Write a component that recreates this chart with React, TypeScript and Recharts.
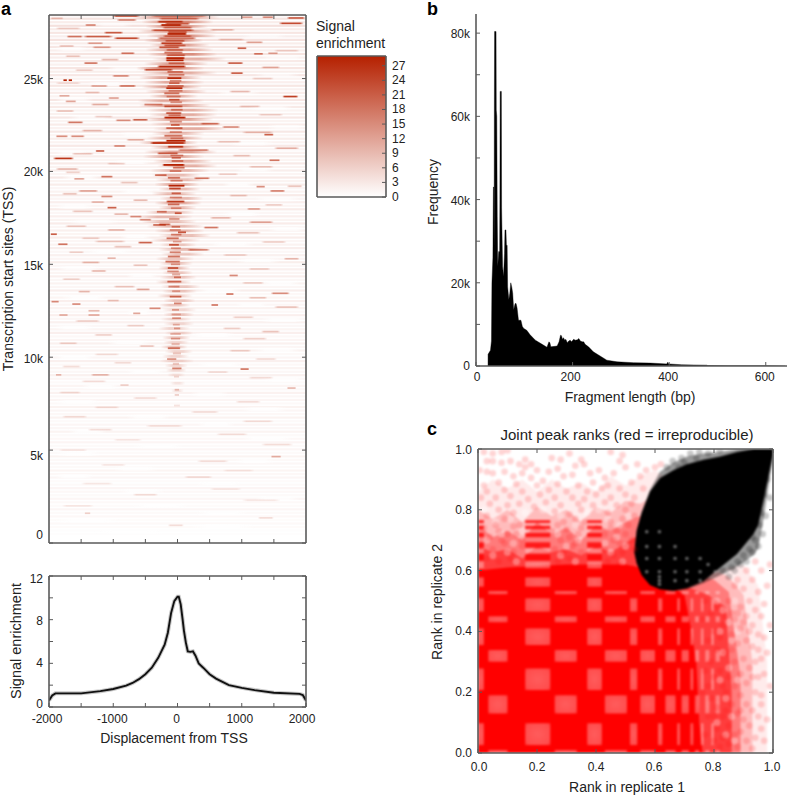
import React from 'react';
import { Area, Bar, BarChart, ComposedChart, Line, ReferenceArea, Scatter, XAxis, YAxis } from 'recharts';

const FONT = '"Liberation Sans", Arial, sans-serif';
const INK = '#222';
const FRAME = '#5a5a5a';
const HEAT = '#b52000';

// ---- panel a, heat map. Rows in TSS index (thousands), spans in bp, level as on the colour bar ----
// faint full width texture, bottom row first, one value per 190 rows
const rowHaze = [
  0, 0, 0.2, 0.3, 0.6, 0.9, 0.5, 1, 0.7, 1.2, 0.6, 0.9, 1.3, 0.7, 1, 1.4, 0.8, 0.6, 1.2, 1,
  1.5, 0.7, 1.1, 0.9, 1.6, 0.8, 1.2, 0.7, 1.4, 1, 0.8, 1.6, 1.1, 1.3, 0.7, 1.7, 1, 1.2, 1.8, 0.9,
  1.4, 1.1, 1.9, 1, 1.5, 0.8, 1.3, 2, 1.1, 1.6, 1, 2.1, 1.3, 0.9, 1.8, 1.2, 2, 1.4, 1, 2.2,
  1.5, 1.1, 2, 1.3, 2.3, 1, 1.7, 1.2, 2.2, 1.5, 1, 2.4, 1.3, 1.8, 1.1, 2.3, 1.5, 2.1, 1.2, 2.5,
  1.4, 2, 1.1, 2.4, 1.7, 1.3, 2.6, 1.5, 2.1, 1.2, 2.7, 1.6, 2.3, 1.3, 2.8, 1.5, 2.2, 1.4, 2.9, 1.8,
  1.3, 2.6, 1.6, 3, 1.4, 2.4, 1.7, 3, 1.5, 2.6, 1.9, 1.4, 3.1, 1.8, 2.5, 1.5, 3.2, 1.9, 2.7, 1.6,
  3.3, 2, 1.6, 3, 2.2, 3.4, 1.8, 2.8, 2, 3.5, 2.2, 1.8, 3.4, 2.5, 3.6, 2, 3, 2.4, 3.8, 2.2,
  3.4, 2.6, 4, 2.4, 3.6, 2.8, 4.2, 2.6, 3.8, 3,
];

// pale patches where the haze breaks up
const hazeGaps = [
  [27.9, -1300, -700, 14], [27.3, 1000, 1700, 16], [26.6, -1900, -1400, 16], [26.1, 1300, 2000, 14], [25.5, -1100, -500, 18], [25.2, 1200, 1900, 16],
  [24.7, -1400, -800, 18], [24.2, 600, 1300, 16], [23.9, -1900, -1300, 16], [23.4, 1100, 1800, 18], [22.9, -1700, -1000, 16], [22.4, 1400, 2000, 16],
  [22, -900, -400, 16], [21.5, 800, 1500, 18], [21, -1900, -1400, 16], [20.5, -1000, -400, 20], [20.1, 900, 1500, 18], [19.7, -1800, -1200, 18],
  [19.3, 700, 1200, 20], [18.9, -900, -350, 20], [18.5, 1200, 1900, 18], [18.1, -1900, -1300, 18], [17.7, 700, 1300, 20], [17.3, -1700, -900, 18],
  [16.9, 1400, 2000, 18], [16.5, -900, -400, 20], [16.1, 500, 1200, 20], [15.7, -1400, -700, 20], [15.2, 900, 1600, 20], [14.8, -1900, -1200, 18],
  [14.4, -800, -300, 20], [14, 1300, 1900, 20], [13.6, 300, 1000, 20], [13.2, -1800, -1100, 20], [12.8, 900, 1400, 20], [12.4, -800, -400, 20],
  [12, 1300, 2000, 20], [11.6, -1900, -1300, 20], [11.2, 200, 900, 20], [10.8, -1100, -400, 20], [10.4, 1200, 1900, 20], [10, -1900, -1300, 20],
  [9.6, 300, 1000, 20], [9.2, -800, -200, 20], [8.8, 1300, 2000, 20], [8.4, -1500, -900, 20], [8, 200, 800, 20], [7.6, -1900, -1200, 20],
  [7.2, 1000, 1700, 20], [6.8, -800, -100, 20], [6.4, 300, 900, 20], [6, -1700, -1100, 20], [5.6, 1000, 1800, 20], [5.2, -700, 100, 20],
  [4.8, -1900, -1200, 20], [4.4, 900, 1500, 20], [4, -1000, -300, 20], [3.6, -1900, -1300, 20], [3.2, 300, 1000, 20], [2.8, -900, -200, 20],
  [2.4, 1200, 1900, 20], [2, -700, 200, 20], [1.6, 300, 1100, 20], [1.2, -1900, -900, 20], [0.9, 200, 1200, 20], [0.6, -1300, -200, 20],
];

// wide soft halo round the TSS
const centerHalo = [
  [28.3, -700, 650, 8], [28.05, -560, 560, 9], [27.8, -500, 480, 8], [27.55, -620, 620, 7], [27.3, -480, 600, 8],
  [27.05, -520, 400, 8], [26.8, -440, 500, 7], [26.55, -500, 560, 7], [26.3, -460, 620, 8], [26.05, -400, 760, 6],
  [25.8, -520, 480, 7], [25.55, -640, 420, 8], [25.3, -560, 620, 6], [25.05, -600, 380, 7], [24.8, -520, 420, 6],
  [24.55, -560, 380, 7], [24.3, -500, 460, 6], [24.05, -440, 320, 6], [23.8, -620, 420, 6], [23.55, -600, 520, 7],
  [23.3, -480, 640, 6], [23.05, -440, 620, 6], [22.8, -500, 560, 7], [22.55, -420, 700, 6], [22.3, -380, 760, 6],
  [22.05, -400, 420, 5], [21.8, -480, 400, 6], [21.55, -600, 320, 7], [21.3, -420, 360, 6], [21.05, -520, 620, 7],
  [20.8, -540, 420, 6], [20.55, -380, 540, 6], [20.3, -320, 620, 6], [20.05, -420, 500, 5], [19.8, -400, 360, 5],
  [19.55, -340, 420, 5], [19.3, -360, 340, 6], [19.05, -300, 360, 5], [18.8, -400, 300, 5], [18.55, -280, 400, 5],
  [18.3, -360, 380, 6], [18.05, -300, 300, 5], [17.8, -500, 260, 5], [17.55, -620, 240, 5], [17.3, -560, 300, 5],
  [17.05, -480, 420, 5], [16.8, -360, 420, 5], [16.55, -300, 520, 5], [16.3, -420, 360, 4], [16.05, -280, 300, 4],
  [15.8, -300, 480, 5], [15.55, -260, 420, 4], [15.3, -340, 260, 4], [15.05, -280, 240, 4], [14.8, -300, 200, 5],
  [14.55, -240, 240, 4], [14.3, -280, 300, 4], [14.05, -340, 220, 4], [13.8, -260, 360, 4], [13.55, -240, 300, 4],
  [13.3, -320, 240, 4], [13.05, -220, 280, 4], [12.8, -280, 200, 4], [12.55, -240, 300, 3], [12.3, -220, 260, 4],
  [12.05, -260, 220, 3], [11.8, -220, 260, 3], [11.55, -300, 200, 3], [11.3, -200, 240, 3], [11.05, -240, 200, 4],
  [10.8, -220, 180, 3], [10.55, -260, 160, 4], [10.3, -200, 240, 3], [10.05, -240, 180, 3], [9.8, -280, 260, 3],
  [9.55, -200, 160, 3], [9.3, -180, 140, 3], [9.05, -160, 120, 2], [8.6, -120, 120, 2], [8.2, -100, 100, 2],
];

// streaks away from the centre
const sideStreaks = [
  [28.37, -1020, -580, 17], [28.15, -950, -630, 11], [28.24, -1980, -1770, 5], [28.3, 980, 1180, 8], [28.3, 1315, 1500, 10],
  [28.26, 1700, 1990, 14], [27.97, 1575, 1965, 16], [27.88, -1440, -1260, 10], [27.47, -1150, -840, 14], [27.26, -1730, -1470, 12],
  [27.26, -1470, -1000, 14], [27.17, -1000, -580, 16], [26.9, -1410, -1150, 8], [26.68, -1330, -1020, 8], [26.95, 1055, 1340, 8],
  [26.63, 925, 1080, 14], [26.36, -890, -660, 12], [26.33, 1180, 1340, 12], [26.36, 1400, 1570, 8], [25.83, -1465, -1230, 12],
  [25.83, 770, 1030, 14], [25.29, 820, 1030, 14], [25.14, -1020, -740, 10], [24.91, -1780, -1720, 22], [24.91, -1700, -1640, 22],
  [24.6, -1360, -1080, 8], [24.6, -920, -640, 12], [23.95, -1080, -900, 8], [24.03, 1630, 1885, 17], [24.07, -1850, -1670, 7],
  [23.77, -1750, -1570, 8], [22.78, -710, -450, 14], [22.75, -970, -710, 10], [22.64, -1720, -1460, 12], [21.98, 1340, 1500, 14],
  [21.89, -1900, -1700, 10], [21.89, -1670, -1440, 10], [22.57, 350, 665, 12], [22.39, 690, 980, 10], [21.1, -1280, -1130, 14],
  [21.37, -1000, -800, 10], [20.7, -1940, -1610, 18], [20.6, 1420, 1600, 12], [20.13, -1900, -1530, 6], [19.6, -1620, -1440, 8],
  [19.72, -1200, -1000, 12], [19.63, 250, 510, 12], [19.18, 1220, 1370, 10], [18.95, 1430, 1680, 11], [18.95, -1550, -1230, 8],
  [18.65, -1200, -1000, 10], [18.05, -1100, -940, 14], [18.35, -1350, -1130, 6], [17.98, 1080, 1300, 8], [17.57, -750, -550, 10],
  [17.4, -600, -400, 10], [17.27, 1100, 1500, 8], [17.15, -300, -100, 14], [16.98, 400, 650, 12], [16.62, -1980, -1870, 14],
  [16.08, -1870, -1700, 12], [16.17, -620, -380, 14], [16.23, -1300, -800, 5], [15.78, 150, 510, 10], [15.33, -1100, -950, 6],
  [15.3, 1650, 1900, 6], [14.64, -1350, -1100, 6], [14.4, 800, 950, 10], [13.44, 1450, 1750, 10], [13.4, 750, 880, 12],
  [12.99, -1970, -1840, 10], [12.86, -1650, -1500, 10], [12.81, 520, 640, 12], [12.63, -450, -250, 10], [12.36, -700, -570, 8],
  [12.5, -1400, -1200, 6], [12.27, -1850, -1700, 7], [12.27, -1400, -1200, 7], [13.53, -1550, -1350, 6], [11.38, 1300, 1600, 5],
  [9.36, 970, 1120, 12], [9.05, -1350, -1050, 6], [9.05, -1900, -1800, 6], [8.5, -900, -750, 4], [8.34, 1700, 1850, 6],
  [4.65, 1450, 1620, 7], [1.6, -1450, -1350, 4],
  // fainter ones
  [27.7, -1900, -1500, 4], [27.62, 500, 900, 6], [27.1, 620, 1050, 5], [26.75, -1850, -1600, 5], [26.5, 1500, 1900, 4],
  [26.2, -1750, -1500, 5], [26.02, -1200, -900, 6], [25.6, 1300, 1600, 7], [25.45, -1600, -1300, 4], [25.0, 1150, 1500, 4],
  [24.75, -1900, -1500, 3], [24.3, 800, 1150, 6], [24.25, -1450, -1200, 5], [23.6, -1350, -1050, 7], [23.5, 950, 1300, 5],
  [23.25, -1900, -1600, 5], [23.05, 1250, 1650, 4], [22.95, -1300, -1000, 4], [22.2, -1500, -1150, 6], [22.1, 1000, 1500, 6],
  [21.7, -800, -500, 7], [21.6, 600, 1000, 5], [21.25, 1500, 1900, 7], [20.95, -1650, -1300, 5], [20.85, 850, 1150, 5],
  [20.42, -1100, -800, 4], [20.25, 1100, 1500, 5], [19.95, -1750, -1500, 4], [19.85, 620, 950, 4], [19.4, -900, -600, 5],
  [19.2, 1700, 1950, 5], [18.8, -1800, -1550, 5], [18.7, 800, 1100, 5], [18.45, -700, -450, 6], [18.2, 1350, 1650, 4],
  [17.85, -1650, -1300, 5], [17.7, -1000, -750, 6], [17.5, 500, 850, 6], [17.05, -1750, -1400, 5], [16.85, -1100, -800, 6],
  [16.7, 900, 1300, 5], [16.4, -1500, -1200, 4], [16.2, 1300, 1700, 4], [15.95, -1000, -700, 5], [15.65, -1700, -1450, 4],
  [15.5, 700, 1100, 4], [15.1, -1500, -1200, 6], [14.95, -700, -450, 5], [14.75, 1100, 1450, 4], [14.2, -1800, -1500, 4],
  [14.0, 1000, 1350, 4], [13.8, -1000, -650, 5], [13.65, -650, -420, 8], [13.2, 1100, 1400, 5], [13.05, -1100, -900, 5],
  [12.7, 1500, 1900, 5], [12.15, 850, 1200, 4], [11.95, -1600, -1200, 4], [11.7, -800, -500, 4], [11.55, 700, 1000, 4],
  [11.2, -1300, -1000, 4], [11, 1000, 1400, 4], [10.75, -1850, -1550, 4], [10.6, -600, -350, 5], [10.35, 800, 1150, 4],
  [10.15, -1300, -900, 3], [9.9, 1200, 1550, 3], [9.7, -1000, -700, 3], [9.5, -1800, -1500, 3], [9.2, 450, 800, 3],
  [8.9, 1100, 1500, 3], [8.7, -1500, -1100, 3], [8.1, -1850, -1500, 3], [7.8, -700, -300, 3], [7.6, 900, 1300, 3],
  [7.3, -1300, -900, 3], [7.05, 200, 650, 3], [6.8, -1800, -1400, 3], [6.55, 1000, 1500, 3], [6.3, -500, 100, 3],
  [6.1, -1400, -1000, 3], [5.85, 600, 1100, 3], [5.55, -1000, -550, 2], [5.3, 1300, 1800, 3], [5, -1850, -1400, 2],
  [4.4, 300, 800, 3], [4.2, -1200, -800, 2], [3.9, 700, 1200, 2], [3.55, 100, 550, 3], [3.2, -1500, -1000, 2],
  [2.9, 500, 1000, 2], [2.6, -700, -300, 3], [2.3, 1000, 1600, 2], [2, -1800, -1300, 2], [1.35, 1250, 1500, 3], [0.95, -150, 100, 3],
];

// bright core of the band, top to bottom
const centerCore = [
  [28.37, -420, 470, 10], [28.22, -300, 350, 14], [28.06, -320, 100, 21], [27.95, -200, 200, 17], [27.88, -270, 70, 24],
  [27.74, -240, 240, 14], [27.6, -420, 270, 17], [27.5, -160, 160, 16], [27.4, -170, 150, 26], [27.28, -230, 230, 13],
  [27.17, -320, 300, 15], [27.03, -200, 120, 14], [26.9, -270, 90, 21], [26.78, -220, 140, 15], [26.68, -300, 40, 18],
  [26.54, -180, 100, 12], [26.4, -220, 90, 15], [26.25, -180, 130, 15], [26.1, -190, 120, 27], [25.98, -190, 110, 25],
  [25.82, -150, 120, 14], [25.65, -320, 140, 23], [25.47, -530, -60, 18], [25.36, -170, 100, 14], [25.2, -150, 120, 13],
  [25.02, -170, 70, 23], [24.88, -130, 70, 12], [24.75, -140, 40, 15], [24.6, -170, 110, 13], [24.48, -190, 90, 23],
  [24.34, -150, 90, 11], [24.2, -220, 40, 15], [24.03, -180, 60, 11], [23.86, -140, 40, 17], [23.72, -120, 80, 11],
  [23.6, -530, -220, 12], [23.5, -220, 90, 17], [23.32, -110, 90, 12], [23.14, -190, 70, 17], [23.02, -150, 60, 12],
  [22.9, -220, 140, 27], [22.68, -130, 80, 12], [22.5, -110, 40, 15], [22.33, -190, 90, 15], [22.12, -130, 80, 11],
  [21.92, -220, 90, 15], [21.78, -120, 100, 11], [21.65, -190, 140, 25], [21.53, -430, 140, 22], [21.33, -160, 100, 21],
  [21.15, 0, 500, 12], [20.97, -320, 20, 17], [20.86, -120, 100, 12], [20.73, -100, 60, 15], [20.56, -100, 100, 13],
  [20.35, -240, 120, 27], [20.2, -80, 120, 15], [20.02, -130, 70, 11], [19.8, -360, -160, 15], [19.66, -160, 50, 15],
  [19.5, -120, 90, 11], [19.23, -150, 120, 24], [19.08, -140, 60, 19], [18.82, -100, 60, 15], [18.6, -130, 80, 11],
  [18.38, -180, 120, 21], [18.22, -160, 40, 15], [18.02, -110, 70, 10], [17.83, -330, -160, 13], [17.75, -50, 70, 17],
  [17.44, -140, 40, 11], [17.12, -390, -170, 15], [17.02, -100, 50, 13], [16.85, -130, 60, 10], [16.72, 0, 140, 18],
  [16.6, -110, 70, 12], [16.4, -180, 30, 15], [16.22, -80, 70, 9], [16.05, -140, 30, 17], [15.87, -110, 60, 10],
  [15.65, -130, 60, 13], [15.42, -160, 50, 15], [15.15, -200, 50, 15], [15, -110, 50, 10], [14.8, -160, 20, 17],
  [14.62, -170, 30, 11], [14.45, -90, 50, 9], [14.3, -60, 60, 13], [14.07, -170, 70, 15], [13.8, -150, 40, 11],
  [13.55, -90, 50, 8], [13.26, -130, 70, 15], [12.9, -60, 70, 13], [12.55, -90, 30, 9], [12.3, -100, 60, 7],
  [12.1, -90, 60, 11], [11.75, -80, 40, 7], [11.55, -60, 50, 9], [11.25, -120, 60, 7], [11, -110, 50, 9],
  [10.7, -100, 40, 7], [10.48, -160, 50, 15], [10.2, -80, 60, 6], [9.9, -170, -10, 11], [9.65, -80, 30, 6],
  [9.4, -90, 70, 13], [8.95, -60, 30, 4], [8.25, -50, 30, 6], [7.97, -50, 30, 5], [7.4, -60, 40, 3],
];

const tuplesToRows = (list: number[][], kind: string) =>
  list.map(([row, from, to, level]) => ({ row, span: [from, to], level, kind }));
const heatRows = [
  ...rowHaze.map((level, i) => ({ row: i * 0.19 + 0.1, span: [-2000, 2000], level, kind: 'haze' })),
  ...tuplesToRows(hazeGaps, 'gap'),
  ...tuplesToRows(centerHalo, 'halo'),
  ...tuplesToRows(sideStreaks, 'streak'),
  ...tuplesToRows(centerCore, 'core'),
];

const colorBarTicks = [0, 3, 6, 9, 12, 15, 18, 21, 24, 27];
const colorBarData = [{ name: 'scale', top: 29 }];

// ---- panel a, mean profile ----
const displacement = [
  -2000, -1950, -1900, -1500, -1200, -1000, -800, -700, -600, -500, -400, -300, -200, -150, -100, -50, 0, 20, 50, 80, 100,
  130, 160, 200, 240, 280, 330, 400, 500, 600, 700, 800, 1000, 1200, 1500, 1900, 1950, 2000,
];
const meanSignal = [
  0.6, 1.05, 1.25, 1.25, 1.45, 1.65, 1.95, 2.2, 2.55, 3, 3.6, 4.5, 5.7, 6.8, 8.6, 9.7, 10.1, 10.1, 9.4, 8, 7,
  5.9, 5.1, 5.05, 5.1, 4.7, 4, 3.6, 3, 2.6, 2.3, 2, 1.75, 1.55, 1.3, 1.2, 1.1, 0.6,
];
const profileData = displacement.map((x, i) => ({ x, mean: meanSignal[i], spread: meanSignal[i] }));

// ---- panel b ----
const fragmentLengths = [
  24.9, 25, 30, 32, 33, 35, 36, 37, 37.5, 38, 38.5, 41.5, 42, 43, 44, 45, 47, 49, 49.5, 50, 52.5, 53, 55, 57, 59, 60, 62, 63, 64.5, 65.5, 68, 70,
  72, 74, 76, 78, 81, 83, 85, 88, 90, 93, 96, 99, 105, 112, 123, 137, 147, 151, 153, 155, 168, 172, 175, 177, 179, 181, 184, 186, 189, 192, 195, 198,
  202, 206, 210, 213, 216, 220, 223, 226, 233, 243, 257, 271, 292, 326, 361, 395, 397, 399, 426, 478, 480, 520, 600, 640,
];
const fragmentCounts = [
  0, 2800, 3800, 6000, 20000, 26000, 43000, 43000, 28000, 62000, 80400, 80400, 61500, 60000, 36000, 24000, 27500, 27500, 40000, 66000, 66000, 38000, 24000, 21500, 27000, 32700, 32700, 29000, 29000, 19000, 16000, 17500,
  20000, 19000, 17500, 13500, 15000, 15000, 14000, 11000, 11000, 11000, 9500, 9000, 8600, 7500, 6200, 5200, 4500, 5800, 5600, 4600, 4800, 5800, 7400, 7300, 6400, 6800, 6200, 6400, 5600, 6000, 6200, 5800,
  6400, 6200, 6300, 6600, 6000, 5800, 5800, 5200, 4600, 3400, 2400, 1400, 1000, 800, 700, 500, 900, 500, 300, 200, 100, 60, 40, 0,
];
const fragmentData = fragmentLengths.map((x, i) => ({ x, y: fragmentCounts[i] }));

// ---- panel c ----
const redLevels = [
  { opacity: 0.08, x: [0, 0.05, 0.1, 0.15, 0.2, 0.25, 0.3, 0.35, 0.4, 0.45, 0.5, 0.55, 0.6, 0.65, 0.8, 0.9, 0.95, 0.98], top: [0.86, 0.9, 0.87, 0.9, 0.86, 0.9, 0.87, 0.89, 0.86, 0.91, 0.88, 0.91, 0.93, 0.9, 0.6, 0.62, 0.55, 0.3] },
  { opacity: 0.2, x: [0, 0.05, 0.1, 0.15, 0.2, 0.25, 0.3, 0.35, 0.4, 0.45, 0.5, 0.55, 0.6, 0.7, 0.8, 0.85, 0.9, 0.93], top: [0.8, 0.77, 0.8, 0.76, 0.81, 0.78, 0.8, 0.76, 0.81, 0.79, 0.83, 0.82, 0.85, 0.75, 0.6, 0.58, 0.52, 0.3] },
  { opacity: 0.35, x: [0, 0.05, 0.1, 0.15, 0.2, 0.25, 0.3, 0.35, 0.4, 0.45, 0.5, 0.55, 0.6, 0.7, 0.8, 0.85, 0.89], top: [0.75, 0.71, 0.73, 0.7, 0.76, 0.72, 0.74, 0.7, 0.75, 0.73, 0.76, 0.78, 0.82, 0.6, 0.57, 0.53, 0.25] },
  { opacity: 0.5, x: [0, 0.05, 0.1, 0.15, 0.2, 0.25, 0.3, 0.35, 0.4, 0.45, 0.5, 0.55, 0.7, 0.78, 0.84, 0.86], top: [0.68, 0.66, 0.67, 0.64, 0.68, 0.66, 0.67, 0.65, 0.68, 0.66, 0.69, 0.72, 0.55, 0.52, 0.48, 0.2] },
  { opacity: 1, x: [0, 0.1, 0.3, 0.5, 0.6, 0.65, 0.7, 0.72, 0.74, 0.75, 0.76], top: [0.6, 0.61, 0.62, 0.62, 0.6, 0.55, 0.52, 0.42, 0.3, 0.1, 0.01] },
];
const blobX = [0.53, 0.538, 0.555, 0.583, 0.617, 0.662, 0.708, 0.764, 0.821, 0.878, 0.934, 0.95, 0.968, 0.985, 1];
const blobOuterLow = [0.66, 0.624, 0.585, 0.553, 0.539, 0.534, 0.539, 0.558, 0.585, 0.613, 0.651, 0.673, 0.772, 0.88, 0.97];
const blobOuterHigh = [0.66, 0.733, 0.794, 0.865, 0.925, 0.955, 0.975, 0.985, 0.99, 1, 1, 1, 1, 1, 1];
const blobInnerLow = [0.66, 0.624, 0.585, 0.553, 0.539, 0.534, 0.542, 0.565, 0.61, 0.655, 0.72, 0.75, 0.83, 0.91, 0.98];
const blobInnerHigh = [0.66, 0.733, 0.79, 0.86, 0.905, 0.93, 0.95, 0.965, 0.975, 0.99, 1, 1, 1, 1, 1];

const checkColsA = [[0.035, 0.1], [0.26, 0.335], [0.43, 0.505], [0.55, 0.6], [0.635, 0.67], [0.69, 0.715], [0.735, 0.75], [0.77, 0.785], [0.805, 0.82]];
const checkColsB = [[0, 0.02], [0.16, 0.245], [0.37, 0.42], [0.515, 0.54], [0.61, 0.625], [0.675, 0.685], [0.72, 0.73], [0.755, 0.765], [0.79, 0.8]];
const checkRowsA = [[0, 0.01], [0.13, 0.19], [0.3, 0.339], [0.43, 0.45], [0.522, 0.533]];
const checkRowsB = [[0.026, 0.098], [0.207, 0.278], [0.355, 0.41], [0.465, 0.509], [0.547, 0.578], [0.607, 0.63], [0.657, 0.673]];
const stripeRows = [[0.756, 0.766], [0.736, 0.748], [0.71, 0.724], [0.675, 0.693], [0.634, 0.654], [0.584, 0.604]];
const stripeCols = [[0, 0.02], [0.16, 0.245], [0.37, 0.42]];

const redDots = [
  [0.02, 0.99], [0.08, 0.99], [0.1, 0.995], [0.05, 0.985], [0.03, 0.96], [0.05, 0.96], [0.08, 0.955], [0.11, 0.96], [0.16, 0.965], [0.14, 0.95],
  [0.18, 0.95], [0.25, 0.97], [0.28, 0.965], [0.31, 0.985], [0.33, 0.945], [0.35, 0.965], [0.36, 0.95], [0.45, 0.99], [0.49, 0.98], [0.48, 0.96],
  [0.5, 0.94], [0.27, 0.935], [0.2, 0.93], [0.24, 0.925], [0.16, 0.94], [0.15, 0.92], [0.09, 0.925], [0.05, 0.92], [0.03, 0.925], [0.005, 0.93],
  [0.12, 0.91], [0.18, 0.905], [0.22, 0.895], [0.29, 0.91], [0.32, 0.915], [0.38, 0.92], [0.41, 0.93], [0.43, 0.905], [0.46, 0.92], [0.54, 0.95],
  [0.57, 0.93], [0.55, 0.91], [0.6, 0.94], [0.62, 0.95], [0.52, 0.89], [0.44, 0.88], [0.39, 0.89], [0.34, 0.88], [0.27, 0.885],
  [0.2, 0.88], [0.13, 0.885], [0.07, 0.89], [0.02, 0.88], [0.03, 0.86], [0.09, 0.865], [0.15, 0.86], [0.24, 0.865], [0.3, 0.86], [0.37, 0.86],
  [0.42, 0.87], [0.48, 0.87], [0.56, 0.87], [0.01, 0.84], [0.06, 0.84], [0.11, 0.845], [0.17, 0.835], [0.21, 0.85],
  [0.26, 0.84], [0.32, 0.84], [0.36, 0.835], [0.4, 0.85], [0.45, 0.84], [0.5, 0.85], [0.53, 0.84], [0.04, 0.82], [0.1, 0.815],
  [0.14, 0.82], [0.19, 0.81], [0.23, 0.825], [0.28, 0.815], [0.34, 0.82], [0.39, 0.815], [0.43, 0.825], [0.47, 0.815], [0.52, 0.82],
  [0.07, 0.8], [0.12, 0.79], [0.26, 0.795], [0.31, 0.785], [0.35, 0.8], [0.44, 0.79], [0.5, 0.8], [0.03, 0.78], [0.09, 0.77], [0.29, 0.76],
  [0.33, 0.77], [0.45, 0.76], [0.49, 0.77], [0.12, 0.745], [0.06, 0.75], [0.3, 0.735], [0.35, 0.74], [0.47, 0.73], [0.13, 0.72], [0.08, 0.7],
  [0.28, 0.7], [0.33, 0.69], [0.46, 0.7], [0.5, 0.72],
  // right hand fringe
  [0.99, 0.62], [0.98, 0.55], [0.96, 0.6], [0.94, 0.63], [0.97, 0.49], [0.95, 0.53], [0.93, 0.57], [0.91, 0.6], [0.99, 0.42], [0.96, 0.45],
  [0.94, 0.47], [0.92, 0.5], [0.9, 0.54], [0.88, 0.57], [0.97, 0.38], [0.95, 0.39], [0.93, 0.42], [0.91, 0.45], [0.89, 0.48], [0.87, 0.55],
  [0.98, 0.33], [0.96, 0.31], [0.93, 0.35], [0.91, 0.37], [0.89, 0.41], [0.87, 0.44], [0.85, 0.5], [0.97, 0.26], [0.95, 0.25], [0.92, 0.28],
  [0.9, 0.31], [0.88, 0.36], [0.86, 0.39], [0.99, 0.22], [0.96, 0.19], [0.94, 0.2], [0.91, 0.23], [0.89, 0.26], [0.87, 0.3], [0.93, 0.14],
  [0.95, 0.12], [0.91, 0.16], [0.89, 0.19], [0.87, 0.22], [0.85, 0.25], [0.98, 0.11], [0.96, 0.08], [0.92, 0.09], [0.9, 0.11], [0.88, 0.13],
  [0.86, 0.16], [0.84, 0.2], [0.94, 0.05], [0.97, 0.04], [0.91, 0.04], [0.89, 0.07], [0.87, 0.06], [0.85, 0.09], [0.83, 0.12], [0.93, 0.015],
  [0.88, 0.02], [0.85, 0.03], [0.83, 0.05], [0.81, 0.08], [0.96, 0.16], [0.93, 0.25], [0.95, 0.34], [0.92, 0.4], [0.9, 0.43], [0.94, 0.3],
  [0.86, 0.46], [0.84, 0.33], [0.83, 0.42], [0.82, 0.27], [0.86, 0.34], [0.88, 0.46], [0.84, 0.14], [0.82, 0.02], [0.8, 0.04], [0.89, 0.14],
  // denser band under the top fringe
  [0.02, 0.74], [0.04, 0.71], [0.07, 0.73], [0.1, 0.72], [0.14, 0.75], [0.15, 0.7], [0.25, 0.73], [0.27, 0.75], [0.31, 0.71], [0.34, 0.72],
  [0.36, 0.76], [0.43, 0.72], [0.45, 0.74], [0.48, 0.69], [0.51, 0.75], [0.53, 0.78], [0.01, 0.68],
  [0.05, 0.67], [0.09, 0.69], [0.12, 0.66], [0.15, 0.68], [0.26, 0.67], [0.29, 0.66], [0.32, 0.68], [0.35, 0.66], [0.43, 0.67], [0.46, 0.65],
  [0.49, 0.66], [0.52, 0.7], [0.03, 0.64], [0.07, 0.63], [0.11, 0.64], [0.27, 0.63], [0.31, 0.64], [0.44, 0.63], [0.48, 0.62], [0.53, 0.67],
  [0.8, 0.4], [0.81, 0.34], [0.8, 0.25], [0.79, 0.18], [0.78, 0.12], [0.77, 0.06], [0.81, 0.15], [0.83, 0.22], [0.82, 0.38], [0.84, 0.45],
  [0.76, 0.44], [0.78, 0.37], [0.77, 0.27], [0.79, 0.3], [0.76, 0.2], [0.78, 0.22], [0.8, 0.12], [0.79, 0.46], [0.81, 0.48], [0.77, 0.5],
];
// paler specks that keep the dense band from looking flat
const gapDots = [
  [0.03, 0.7], [0.08, 0.72], [0.12, 0.69], [0.15, 0.73], [0.27, 0.72], [0.3, 0.68], [0.34, 0.7], [0.43, 0.69], [0.47, 0.71], [0.5, 0.68],
  [0.05, 0.65], [0.1, 0.66], [0.13, 0.63], [0.28, 0.65], [0.33, 0.63], [0.45, 0.66], [0.49, 0.63], [0.06, 0.76], [0.11, 0.77], [0.28, 0.78],
  [0.33, 0.75], [0.44, 0.77], [0.48, 0.75], [0.02, 0.8], [0.16, 0.79], [0.22, 0.8], [0.37, 0.79], [0.41, 0.8], [0.51, 0.78],
  [0.81, 0.5], [0.83, 0.47], [0.85, 0.43], [0.82, 0.4], [0.86, 0.37], [0.83, 0.33], [0.85, 0.28], [0.82, 0.24], [0.84, 0.18], [0.86, 0.12],
  [0.81, 0.1], [0.84, 0.06], [0.87, 0.04], [0.88, 0.24], [0.88, 0.4], [0.87, 0.5],
];
const greyFringe = [
  [0.99, 0.84], [0.975, 0.78], [0.965, 0.72], [0.95, 0.68], [0.93, 0.66], [0.91, 0.63], [0.89, 0.62], [0.87, 0.6], [0.97, 0.85], [0.955, 0.75],
  [0.94, 0.7], [0.92, 0.67], [0.9, 0.65], [0.98, 0.9], [0.96, 0.79], [0.85, 0.58], [0.83, 0.6], [0.88, 0.63], [0.86, 0.61], [0.93, 0.71],
  [0.66, 0.96], [0.69, 0.97], [0.72, 0.985], [0.75, 0.99], [0.78, 0.985], [0.82, 0.995], [0.7, 0.955], [0.74, 0.97], [0.68, 0.94], [0.64, 0.94],
];
const blobHoles = [
  [0.572, 0.728], [0.615, 0.728], [0.572, 0.679], [0.615, 0.679], [0.668, 0.679], [0.572, 0.64], [0.615, 0.64], [0.668, 0.64], [0.708, 0.64], [0.753, 0.64],
  [0.572, 0.596], [0.615, 0.596], [0.668, 0.596], [0.708, 0.596], [0.753, 0.596], [0.804, 0.596], [0.615, 0.567], [0.668, 0.567], [0.708, 0.567], [0.753, 0.567],
  [0.615, 0.555], [0.615, 0.58], [0.843, 0.596], [0.78, 0.62],
];

const lightCells = [
  ...checkRowsA.flatMap(r => checkColsA.map(c => [c[0], c[1], r[0], r[1]])),
  ...checkRowsB.flatMap(r => checkColsB.filter(c => r[0] < 0.53 || c[1] < 0.54).map(c => [c[0], c[1], r[0], r[1]])),
];
const redStripes = stripeRows.flatMap(r => stripeCols.map(c => [c[0], c[1], r[0], r[1]]));

const pts = (list: number[][]) => list.map(([x, y]) => ({ x, y }));
const levelData = (x: number[], top: number[]) => x.map((v, i) => ({ x: v, band: [0, top[i]] }));
const blobData = (low: number[], high: number[]) => blobX.map((x, i) => ({ x, band: [low[i], high[i]] }));

// ---- frame with inward ticks, drawn as four axes ----
type LabelMap = Record<string, { text: string; dx?: number; dy?: number }>;

const inTick = (side: 'top' | 'bottom' | 'left' | 'right', labels: LabelMap, gap: number, mark = true) => (p: any) => {
  const { x, y, payload } = p;
  const len = 4;
  const lab = labels[String(payload.value)];
  const ex = side === 'left' ? x + len : side === 'right' ? x - len : x;
  const ey = side === 'bottom' ? y - len : side === 'top' ? y + len : y;
  const lx = side === 'left' ? x - gap : side === 'right' ? x + gap : x;
  const ly = side === 'bottom' ? y + gap : y;
  const anchor = side === 'left' ? 'end' : side === 'right' ? 'start' : 'middle';
  return (
    <g>
      {mark ? <line x1={x} y1={y} x2={ex} y2={ey} stroke={FRAME} strokeWidth={1} /> : null}
      {lab ? (
        <text x={lx + (lab.dx ?? 0)} y={ly + (lab.dy ?? 0)} textAnchor={anchor} dominantBaseline="central"
          fontFamily={FONT} fontSize={12} fill={INK}>{lab.text}</text>
      ) : null}
    </g>
  );
};

const lineProps = { stroke: FRAME, strokeWidth: 1.6 };

function Frame(props: any) {
  const { x, y, w, h, xDomain, yDomain, xTicks, yTicks, xLabels = {}, yLabels = {}, rightLabels = {}, open = false, leftMarks = true, xGap = 12, yGap = 6 } = props;
  const left = 70;
  const top = 20;
  const bottom = 40;
  const right = 40;
  // the axes on the far sides need 1px of room or they are not drawn
  const chartData = [{ x: xDomain[0] }, { x: xDomain[1] }];
  return (
    <div style={{ position: 'absolute', left: x - left, top: y - top }}>
      <ComposedChart width={w + left + right} height={h + top + bottom} data={chartData}
        margin={{ top: open ? top : top - 1, right: open ? right : right - 1, bottom: 0, left: 0 }}>
        <XAxis xAxisId="b" dataKey="x" type="number" domain={xDomain} ticks={xTicks} interval={0} height={bottom} tickSize={0} tickMargin={0}
          tickLine={false} axisLine={lineProps} allowDataOverflow tick={inTick('bottom', xLabels, xGap)} />
        <YAxis yAxisId="l" type="number" domain={yDomain} ticks={yTicks} interval={0} width={left} tickSize={0} tickMargin={0}
          tickLine={false} axisLine={lineProps} allowDataOverflow tick={inTick('left', yLabels, yGap, leftMarks)} />
        {open ? null : (
          <XAxis xAxisId="t" dataKey="x" orientation="top" type="number" domain={xDomain} ticks={xTicks} interval={0} height={1} tickSize={0} tickMargin={0}
            tickLine={false} axisLine={lineProps} allowDataOverflow tick={inTick('top', {}, 0)} />
        )}
        {open ? null : (
          <YAxis yAxisId="r" orientation="right" type="number" domain={yDomain} ticks={yTicks} interval={0} width={1} tickSize={0} tickMargin={0}
            tickLine={false} axisLine={lineProps} allowDataOverflow tick={inTick('right', rightLabels, yGap)} />
        )}
      </ComposedChart>
    </div>
  );
}

function Txt({ x, y, size = 14, rotate = false, bold = false, anchor = 'center', children }: any) {
  const shift = anchor === 'left' ? 'translate(0,-50%)' : 'translate(-50%,-50%)';
  return (
    <div style={{
      position: 'absolute', left: x, top: y, transform: shift + (rotate ? ' rotate(-90deg)' : ''), whiteSpace: 'nowrap',
      fontFamily: FONT, fontSize: size, fontWeight: bold ? 700 : 400, color: bold ? '#000' : INK, lineHeight: 1,
    }}>{children}</div>
  );
}

const plotBox = (x: number, y: number, w: number, h: number): React.CSSProperties => ({
  position: 'absolute', left: x, top: y, width: w, height: h, overflow: 'hidden',
});

// rows are packed far closer than a pixel, so the drawn height is fixed per kind and centred on the scaled row
const rowStyle: Record<string, { px: number; fill: string; gain: number }> = {
  haze: { px: 2.2, fill: HEAT, gain: 0.85 },
  gap: { px: 4, fill: 'url(#fadeGap)', gain: 1 },
  halo: { px: 2.8, fill: 'url(#fadeWide)', gain: 1.5 },
  streak: { px: 1.7, fill: 'url(#fadeEnds)', gain: 1.35 },
  core: { px: 1.8, fill: 'url(#fadeCore)', gain: 1.1 },
};
const StreakShape = (p: any) => {
  const row = p.payload ?? p;
  const style = rowStyle[row.kind] ?? rowStyle.streak;
  return (
    <rect x={p.x} y={p.y + p.height / 2 - style.px / 2} width={Math.abs(p.width)} height={style.px}
      fill={style.fill} fillOpacity={Math.min(1, (style.gain * row.level) / 27)} />
  );
};
const fadeStops = (from: number, color = HEAT) => [
  <stop key="a" offset="0%" stopColor={color} stopOpacity={0} />,
  <stop key="b" offset={`${from}%`} stopColor={color} stopOpacity={1} />,
  <stop key="c" offset={`${100 - from}%`} stopColor={color} stopOpacity={1} />,
  <stop key="d" offset="100%" stopColor={color} stopOpacity={0} />,
];
const dotShape = (fill: string, opacity: number, r: number) => (p: any) =>
  <circle cx={p.cx} cy={p.cy} r={r} fill={fill} fillOpacity={opacity} />;

const labelSet = (list: [number, string, number?, number?][]): LabelMap =>
  Object.fromEntries(list.map(([v, text, dx, dy]) => [String(v), { text, dx, dy }]));

export default function App() {
  return (
    <div style={{ position: 'absolute', left: 0, top: 0, width: 787, height: 795, background: '#fff', overflow: 'hidden' }}>
      <Txt x={1} y={9} size={18} bold anchor="left">a</Txt>
      <Txt x={427} y={9} size={18} bold anchor="left">b</Txt>
      <Txt x={427} y={429} size={18} bold anchor="left">c</Txt>

      {/* a: heat map */}
      <div style={plotBox(49, 15, 257, 528)}>
        <BarChart width={257} height={528} layout="vertical" data={heatRows} margin={{ top: 0, right: 0, bottom: 0, left: 0 }} style={{ filter: 'blur(0.6px)' }}>
          <defs>
            <linearGradient id="fadeWide" x1="0" y1="0" x2="1" y2="0">{fadeStops(35)}</linearGradient>
            <linearGradient id="fadeEnds" x1="0" y1="0" x2="1" y2="0">{fadeStops(15)}</linearGradient>
            <linearGradient id="fadeCore" x1="0" y1="0" x2="1" y2="0">{fadeStops(10)}</linearGradient>
            <linearGradient id="fadeGap" x1="0" y1="0" x2="1" y2="0">{fadeStops(25, '#ffffff')}</linearGradient>
          </defs>
          <XAxis type="number" domain={[-2000, 2000]} hide />
          <YAxis type="number" dataKey="row" domain={[0, 28.42]} hide reversed />
          <Bar dataKey="span" barSize={2} isAnimationActive={false} shape={StreakShape} />
        </BarChart>
      </div>
      <Frame x={49} y={15} w={257} h={528} xDomain={[-2000, 2000]} yDomain={[0, 28420]}
        xTicks={[-1500, -1000, -500, 0, 500, 1000, 1500]} yTicks={[0, 5000, 10000, 15000, 20000, 25000]}
        yLabels={labelSet([[0, '0', 0, -8], [5000, '5k', 0, 6], [10000, '10k', 0, 2], [15000, '15k', 0, 2], [20000, '20k', 0, 1], [25000, '25k', 0, 1]])} />
      <Txt x={8} y={279} size={14} rotate>Transcription start sites (TSS)</Txt>

      {/* a: colour bar */}
      <Txt x={316} y={26} size={14} anchor="left">Signal</Txt>
      <Txt x={316} y={43} size={14} anchor="left">enrichment</Txt>
      <div style={plotBox(317, 56, 69, 141)}>
        <BarChart width={69} height={141} data={colorBarData} margin={{ top: 0, right: 0, bottom: 0, left: 0 }} barCategoryGap={0}>
          <defs>
            <linearGradient id="heatScale" x1="0" y1="0" x2="0" y2="1">
              <stop offset="0%" stopColor={HEAT} />
              <stop offset="100%" stopColor="#ffffff" />
            </linearGradient>
          </defs>
          <XAxis dataKey="name" hide />
          <YAxis domain={[0, 29]} hide />
          <Bar dataKey="top" fill="url(#heatScale)" isAnimationActive={false} />
        </BarChart>
      </div>
      <Frame x={317} y={56} w={69} h={141} xDomain={[0, 1]} yDomain={[0, 29]} xTicks={[]} yTicks={colorBarTicks} leftMarks={false}
        rightLabels={labelSet(colorBarTicks.map(t => [t, String(t)] as [number, string]))} />

      {/* a: mean profile */}
      <div style={plotBox(49, 576, 257, 131)}>
        <ComposedChart width={257} height={131} data={profileData} margin={{ top: 0, right: 0, bottom: 0, left: 0 }} style={{ filter: 'blur(0.35px)' }}>
          <XAxis dataKey="x" type="number" domain={[-2000, 2000]} hide />
          <YAxis type="number" domain={[0, 12]} hide />
          <Line dataKey="spread" stroke="#000" strokeOpacity={0.22} strokeWidth={4} dot={false} isAnimationActive={false} />
          <Line dataKey="mean" stroke="#111" strokeWidth={1.9} dot={false} isAnimationActive={false} />
        </ComposedChart>
      </div>
      <Frame x={49} y={576} w={257} h={131} xDomain={[-2000, 2000]} yDomain={[0, 12]} xGap={12}
        xTicks={[-2000, -1500, -1000, -500, 0, 500, 1000, 1500, 2000]} yTicks={[0, 2, 4, 6, 8, 10, 12]}
        xLabels={labelSet([[-2000, '-2000', -2], [-1000, '-1000', -1], [0, '0', -1], [1000, '1000', -2], [2000, '2000', -4]])}
        yLabels={labelSet([[0, '0', 0, -3], [4, '4'], [8, '8', 0, 1], [12, '12', 0, 3]])} />
      <Txt x={16} y={641} size={14.5} rotate>Signal enrichment</Txt>
      <Txt x={174} y={738} size={14}>Displacement from TSS</Txt>

      {/* b: fragment lengths */}
      <div style={plotBox(476, 14, 311, 352)}>
        <ComposedChart width={311} height={352} data={fragmentData} margin={{ top: 0, right: 0, bottom: 0, left: 0 }} style={{ filter: 'blur(0.3px)' }}>
          <XAxis dataKey="x" type="number" domain={[0, 644]} hide />
          <YAxis type="number" domain={[0, 84600]} hide />
          <Area dataKey="y" type="linear" fill="#000" fillOpacity={1} stroke="#000" strokeWidth={0.4} isAnimationActive={false} />
        </ComposedChart>
      </div>
      <Frame x={476} y={14} w={311} h={352} xDomain={[0, 644]} yDomain={[0, 84600]} open xGap={11}
        xTicks={[0, 200, 400, 600]} yTicks={[0, 10000, 20000, 30000, 40000, 50000, 60000, 70000, 80000]}
        xLabels={labelSet([[0, '0', 1], [200, '200', -2], [400, '400', -1], [600, '600', -1]])}
        yLabels={labelSet([[0, '0'], [20000, '20k', 0, 1], [40000, '40k', 0, 1], [60000, '60k', 0, 1], [80000, '80k', 0, 1]])} />
      <Txt x={433} y={192} size={14} rotate>Frequency</Txt>
      <Txt x={630} y={397} size={14}>Fragment length (bp)</Txt>

      {/* c: joint ranks */}
      <Txt x={627} y={434} size={15}>Joint peak ranks (red = irreproducible)</Txt>
      <div style={plotBox(478, 449, 295, 304)}>
        <ComposedChart width={295} height={304} margin={{ top: 0, right: 0, bottom: 0, left: 0 }} style={{ filter: 'blur(0.8px)' }}>
          <defs>
            <radialGradient id="cellFade" r="0.75">
              <stop offset="0%" stopColor="#fff" stopOpacity={0.72} />
              <stop offset="75%" stopColor="#fff" stopOpacity={0.6} />
              <stop offset="100%" stopColor="#fff" stopOpacity={0.35} />
            </radialGradient>
          </defs>
          <XAxis dataKey="x" type="number" domain={[0, 1]} hide allowDuplicatedCategory={false} />
          <YAxis type="number" domain={[0, 1]} hide />
          {redLevels.map((l, i) => (
            <Area key={i} data={levelData(l.x, l.top)} dataKey="band" type="linear" fill="#ff0000" fillOpacity={l.opacity} stroke="none" isAnimationActive={false} />
          ))}
          {lightCells.map((c, i) => (
            <ReferenceArea key={i} x1={c[0]} x2={c[1]} y1={c[2]} y2={c[3]} fill="url(#cellFade)" stroke="none" />
          ))}
          {redStripes.map((c, i) => (
            <ReferenceArea key={'s' + i} x1={c[0]} x2={c[1]} y1={c[2]} y2={c[3]} fill="#ff0000" fillOpacity={0.8} stroke="none" />
          ))}
          <Scatter data={pts(gapDots)} dataKey="y" shape={dotShape('#fff', 0.3, 3.6)} isAnimationActive={false} />
          <Scatter data={pts(redDots)} dataKey="y" shape={dotShape('#ff0000', 0.17, 3.3)} isAnimationActive={false} />
          <Area data={blobData(blobOuterLow, blobOuterHigh)} dataKey="band" type="linear" fill="#000" fillOpacity={0.4} stroke="none" isAnimationActive={false} />
          <Area data={blobData(blobInnerLow, blobInnerHigh)} dataKey="band" type="linear" fill="#000" fillOpacity={1} stroke="none" isAnimationActive={false} />
          <Scatter data={pts(greyFringe)} dataKey="y" shape={dotShape('#000', 0.22, 3.3)} isAnimationActive={false} />
          <Scatter data={pts(blobHoles)} dataKey="y" shape={dotShape('#aaa', 0.6, 1.8)} isAnimationActive={false} />
        </ComposedChart>
      </div>
      <Frame x={478} y={449} w={295} h={304} xDomain={[0, 1]} yDomain={[0, 1]} xGap={13.5}
        xTicks={[0, 0.2, 0.4, 0.6, 0.8, 1]} yTicks={[0, 0.2, 0.4, 0.6, 0.8, 1]}
        xLabels={labelSet([[0, '0.0', 1], [0.2, '0.2'], [0.4, '0.4'], [0.6, '0.6', -1], [0.8, '0.8', -1], [1, '1.0', -1]])}
        yLabels={labelSet([[0, '0.0'], [0.2, '0.2'], [0.4, '0.4'], [0.6, '0.6'], [0.8, '0.8'], [1, '1.0', 0, 1]])} />
      <Txt x={437} y={602} size={14} rotate>Rank in replicate 2</Txt>
      <Txt x={627} y={787} size={14}>Rank in replicate 1</Txt>
    </div>
  );
}
